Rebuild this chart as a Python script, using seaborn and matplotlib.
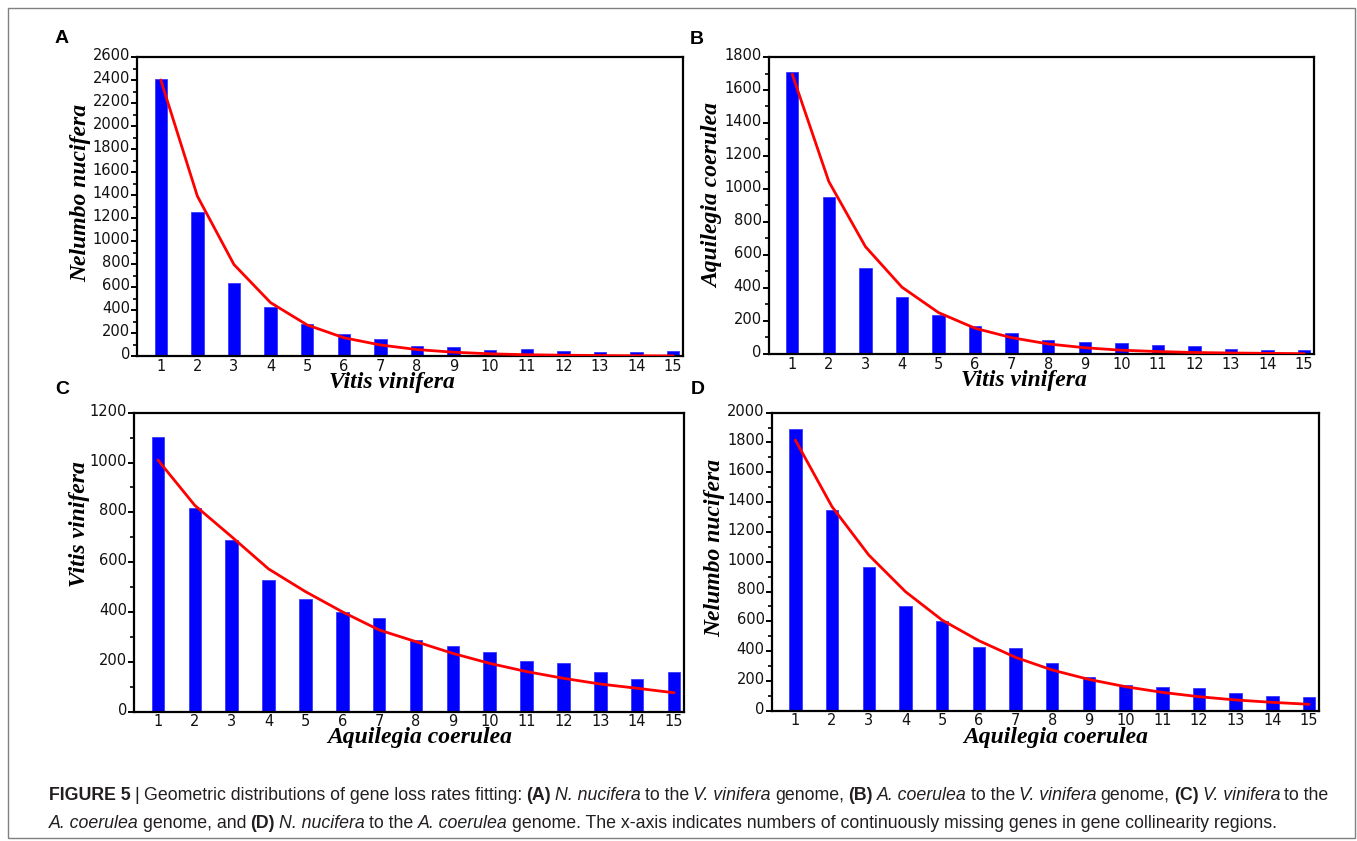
import numpy as np
import pandas as pd
import matplotlib
matplotlib.use("Agg")
import matplotlib.pyplot as plt
import seaborn as sns
import matplotlib.transforms as mtransforms
from matplotlib.ticker import MultipleLocator
from matplotlib.patches import Rectangle
from matplotlib.offsetbox import TextArea, HPacker, AnnotationBbox

# ---------------- data ----------------
gap_len = list(range(1, 16))

a_counts = [2405, 1250, 637, 426, 278, 191, 148, 87, 78, 52, 64, 41, 35, 35, 41]
a_fit = [2400, 1390, 795, 464, 270, 159, 96, 56, 33, 19, 11, 7, 4, 2, 1]

b_counts = [1709, 950, 520, 344, 237, 168, 125, 87, 73, 65, 53, 49, 28, 24, 24]
b_fit = [1695, 1045, 651, 405, 251, 156, 99, 61, 38, 23, 15, 9, 6, 4, 2]

c_counts = [1101, 816, 689, 528, 451, 400, 376, 286, 262, 239, 205, 197, 159, 130, 161]
c_fit = [1010, 828, 702, 573, 482, 401, 328, 281, 234, 194, 161, 134, 111, 94, 76]

d_counts = [1893, 1349, 962, 702, 600, 427, 418, 318, 228, 172, 157, 150, 121, 96, 94]
d_fit = [1816, 1369, 1045, 799, 608, 470, 358, 273, 210, 161, 123, 94, 72, 56, 43]

panel_letters = ["A", "B", "C", "D"]
x_labels = ["Vitis vinifera", "Vitis vinifera", "Aquilegia coerulea", "Aquilegia coerulea"]
y_labels = ["Nelumbo nucifera", "Aquilegia coerulea", "Vitis vinifera", "Nelumbo nucifera"]
y_max = [2600, 1800, 1200, 2000]

# ---------------- style ----------------
sns.set_theme(style="white")
plt.rcParams["font.family"] = ["DejaVu Sans"]

W, H = 1357, 841
fig = plt.figure(figsize=(W / 100, H / 100), dpi=100)
fig.patch.set_facecolor("white")

# axes rectangles in pixels: left, right, top, bottom
rects_px = [
    (137, 683, 57, 356),
    (768.5, 1314, 57, 354),
    (134, 684, 412.7, 711.7),
    (771.5, 1319, 412.7, 710.7),
]
ylabel_pos = [(-0.084, 0.545), (-0.083, 0.532), (-0.080, 0.629), (-0.084, 0.546)]
xlabel_pos = [(0.467, -0.052), (0.468, -0.055), (0.52, -0.052), (0.52, -0.055)]
letter_px = [(61.5, 38.5), (696.5, 39), (62.5, 390), (698, 390)]

series = [(a_counts, a_fit), (b_counts, b_fit), (c_counts, c_fit), (d_counts, d_fit)]

for i, ((cnt, fit), (l, r, t, b)) in enumerate(zip(series, rects_px)):
    ax = fig.add_axes([l / W, 1 - b / H, (r - l) / W, (b - t) / H])
    df = pd.DataFrame({"gap": gap_len, "count": cnt, "fit": fit})
    sns.barplot(data=df, x="gap", y="count", native_scale=True, width=0.34,
                color="#0000ff", saturation=1, edgecolor="#3a3aff",
                linewidth=0.6, ax=ax, zorder=2)
    sns.lineplot(data=df, x="gap", y="fit", color="#ff0000", lw=2.0, ax=ax,
                 zorder=3)
    ax.set_xlim(0.35, 15.27)
    ax.set_ylim(0, y_max[i])
    ax.set_xticks(gap_len)
    ax.set_xticklabels([str(v) for v in gap_len])
    ax.yaxis.set_major_locator(MultipleLocator(200))
    ax.yaxis.set_minor_locator(MultipleLocator(100))
    ax.tick_params(axis="y", which="major", direction="out", length=4.5,
                   width=1.4, color="black", labelsize=10.5, pad=0.5,
                   left=True, labelcolor="#111111")
    ax.tick_params(axis="y", which="minor", direction="out", length=3,
                   width=1.2, color="black", left=True)
    ax.tick_params(axis="x", which="both", length=0, labelsize=10.5, pad=2,
                   labelcolor="#111111")
    off = mtransforms.ScaledTranslation(0, 3 / 100, fig.dpi_scale_trans)
    for lab in ax.get_yticklabels():
        lab.set_transform(lab.get_transform() + off)
    for sp in ax.spines.values():
        sp.set_visible(True)
        sp.set_color("black")
        sp.set_linewidth(1.6)
    ax.grid(False)
    ax.set_facecolor("white")
    ax.set_xlabel(x_labels[i], family="Liberation Serif", weight="bold",
                  style="italic", fontsize=17, color="black")
    ax.set_ylabel(y_labels[i], family="Liberation Serif", weight="bold",
                  style="italic", fontsize=17, color="black")
    ax.xaxis.set_label_coords(*xlabel_pos[i])
    ax.yaxis.set_label_coords(*ylabel_pos[i])
    lx, ly = letter_px[i]
    fig.text(lx / W, 1 - ly / H, panel_letters[i], family="Liberation Sans",
             weight="bold", fontsize=14, ha="center", va="center",
             color="black")

# ---------------- outer frame ----------------
fig.add_artist(Rectangle((8 / W, 1 - 838 / H), (1355 - 8) / W, (838 - 8) / H,
                         transform=fig.transFigure, fill=False,
                         ec="#808080", lw=1.0))

# ---------------- caption ----------------
cap_fam = ["Liberation Sans Narrow", "Liberation Sans"]
cap_size = 12.8
cap_col = "#231f20"


def piece(txt, kind="n"):
    props = dict(family=cap_fam, fontsize=cap_size, color=cap_col)
    if kind == "b":
        props["weight"] = "bold"
    elif kind == "i":
        props["style"] = "italic"
    return TextArea(txt, textprops=props)


line1 = [("FIGURE 5", "b"), ("|", "n"),
         ("Geometric distributions of gene loss rates fitting:", "n"),
         ("(A)", "b"), ("N. nucifera", "i"), ("to the", "n"),
         ("V. vinifera", "i"), ("genome,", "n"), ("(B)", "b"),
         ("A. coerulea", "i"), ("to the", "n"), ("V. vinifera", "i"),
         ("genome,", "n"), ("(C)", "b"), ("V. vinifera", "i"), ("to the", "n")]
line2 = [("A. coerulea", "i"), ("genome, and", "n"), ("(D)", "b"),
         ("N. nucifera", "i"), ("to the", "n"), ("A. coerulea", "i"),
         ("genome. The x-axis indicates numbers of continuously missing genes "
          "in gene collinearity regions.", "n")]

for parts, ypix in [(line1, 795), (line2, 823)]:
    pk = HPacker(children=[piece(t, k) for t, k in parts], align="baseline",
                 pad=0, sep=3.0)
    ab = AnnotationBbox(pk, (49, H - ypix), xycoords="figure pixels",
                        box_alignment=(0, 0.5), frameon=False, pad=0)
    fig.add_artist(ab)

fig.savefig("out.png", dpi=100, facecolor="white")
